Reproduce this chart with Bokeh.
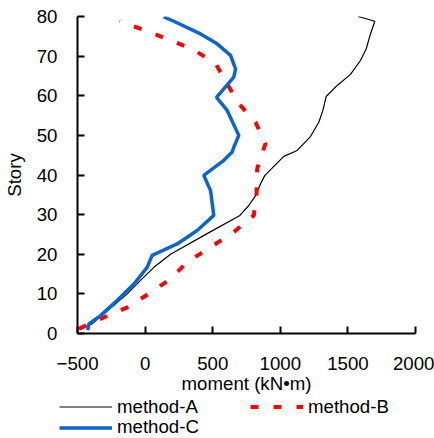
from bokeh.plotting import figure
from bokeh.layouts import column, row
from bokeh.models import Legend, LegendItem, Range1d, FixedTicker
from bokeh.embed import file_html
from bokeh.resources import INLINE

# ---- data ----
story_a = [1, 2.5, 10, 13.4, 16.7, 20, 25.2, 29.8, 32.3, 34.8, 37.8, 39.9, 44.7, 46.2,
           49.7, 53.3, 56.3, 59.8, 62.6, 65.4, 68.9, 71.8, 75.6, 78.8, 80]
moment_a = [-480, -390, -132, -34, 65, 188, 459, 701, 767, 817, 854, 886, 1026, 1125,
            1223, 1285, 1315, 1339, 1421, 1519, 1593, 1635, 1667, 1699, 1576]

story_b = [1.2, 3.7, 6.6, 10, 13.8, 18, 21.8, 25.6, 29.8, 35.3, 41.6, 47.9, 53.3, 58,
           63, 68.1, 71.6, 73.8, 76.3, 78.8]
moment_b = [-490, -330, -132, 27, 188, 311, 484, 656, 804, 824, 829, 890, 817, 693,
            607, 521, 360, 200, 15, -190]

story_c = [0.8, 2.4, 4.5, 8.3, 12.5, 16.7, 19.7, 22.6, 26, 29.8, 36.1, 39.9, 43.7, 45.8,
           47, 50, 56.3, 59.6, 64.7, 66.8, 70.2, 73.1, 75.6, 78.8, 79.9]
moment_c = [-424, -416, -330, -207, -83, 15, 52, 237, 385, 508, 484, 434, 582, 644,
            656, 693, 607, 528, 656, 669, 632, 533, 410, 212, 138]

x_ticks = [-500, 0, 500, 1000, 1500, 2000]
y_ticks = [0, 10, 20, 30, 40, 50, 60, 70, 80]
names = ["method-A", "method-B", "method-C"]

FONT = "Liberation Sans"
FS = "18.67px"
COL_A, COL_B, COL_C = "black", "#FF0000", "#0A66CC"

p = figure(width=434, height=396, output_backend="svg", toolbar_location=None,
           x_range=Range1d(-500, 2000), y_range=Range1d(0, 80),
           min_border_left=77, min_border_right=19, min_border_top=16,
           min_border_bottom=63)
p.outline_line_color = None
p.grid.grid_line_color = None

p.line(moment_a, story_a, line_color=COL_A, line_width=1.2)
p.line(moment_b, story_b, line_color=COL_B, line_width=4, line_dash="8 15")
p.line(moment_c, story_c, line_color=COL_C, line_width=3.5)

for ax in (p.xaxis[0], p.yaxis[0]):
    ax.axis_line_width = 2
    ax.major_tick_line_width = 2
    ax.major_tick_in = 7
    ax.major_tick_out = 0
    ax.minor_tick_line_color = None
    ax.major_label_text_font = FONT
    ax.major_label_text_font_size = FS
    ax.major_label_text_color = "black"
    ax.axis_label_text_font = FONT
    ax.axis_label_text_font_size = FS
    ax.axis_label_text_font_style = "normal"
    ax.axis_label_text_color = "black"

p.xaxis.ticker = FixedTicker(ticks=x_ticks)
p.yaxis.ticker = FixedTicker(ticks=y_ticks)
p.xaxis.axis_label = "moment (kN\u2022m)"
p.yaxis.axis_label = "Story"
p.xaxis.major_label_standoff = 23
p.xaxis.axis_label_standoff = 0
p.yaxis.major_label_standoff = 20
p.yaxis.axis_label_standoff = 9

# ---- legend strip below the chart (series drawn far outside its ranges) ----
lg = figure(width=434, height=42, output_backend="svg", toolbar_location=None,
            x_range=Range1d(5000, 6000), y_range=Range1d(500, 600),
            min_border=0, min_border_left=0, min_border_right=0,
            min_border_top=0, min_border_bottom=0,
            x_axis_type=None, y_axis_type=None)
lg.outline_line_color = None
lg.grid.grid_line_color = None
ra = lg.line(moment_a, story_a, line_color=COL_A, line_width=1.2)
rb = lg.line(moment_b, story_b, line_color=COL_B, line_width=4, line_dash="8 15")
rc = lg.line(moment_c, story_c, line_color=COL_C, line_width=3.5)


def make_legend(label, rend, loc):
    return Legend(items=[LegendItem(label=label, renderers=[rend])], location=loc,
                  orientation="vertical",
                  label_text_font=FONT, label_text_font_size=FS,
                  label_text_color="black", glyph_width=53, glyph_height=19,
                  label_height=19, label_standoff=5, spacing=0, padding=0,
                  margin=0, border_line_alpha=0, background_fill_alpha=0)


lg.add_layout(make_legend(names[0], ra, (59, 20.5)), "center")
lg.add_layout(make_legend(names[1], rb, (250, 20.5)), "center")
lg.add_layout(make_legend(names[2], rc, (59, 0)), "center")

layout = column(p, row(lg), spacing=0)
open("out.html", "w").write(file_html(layout, INLINE))
